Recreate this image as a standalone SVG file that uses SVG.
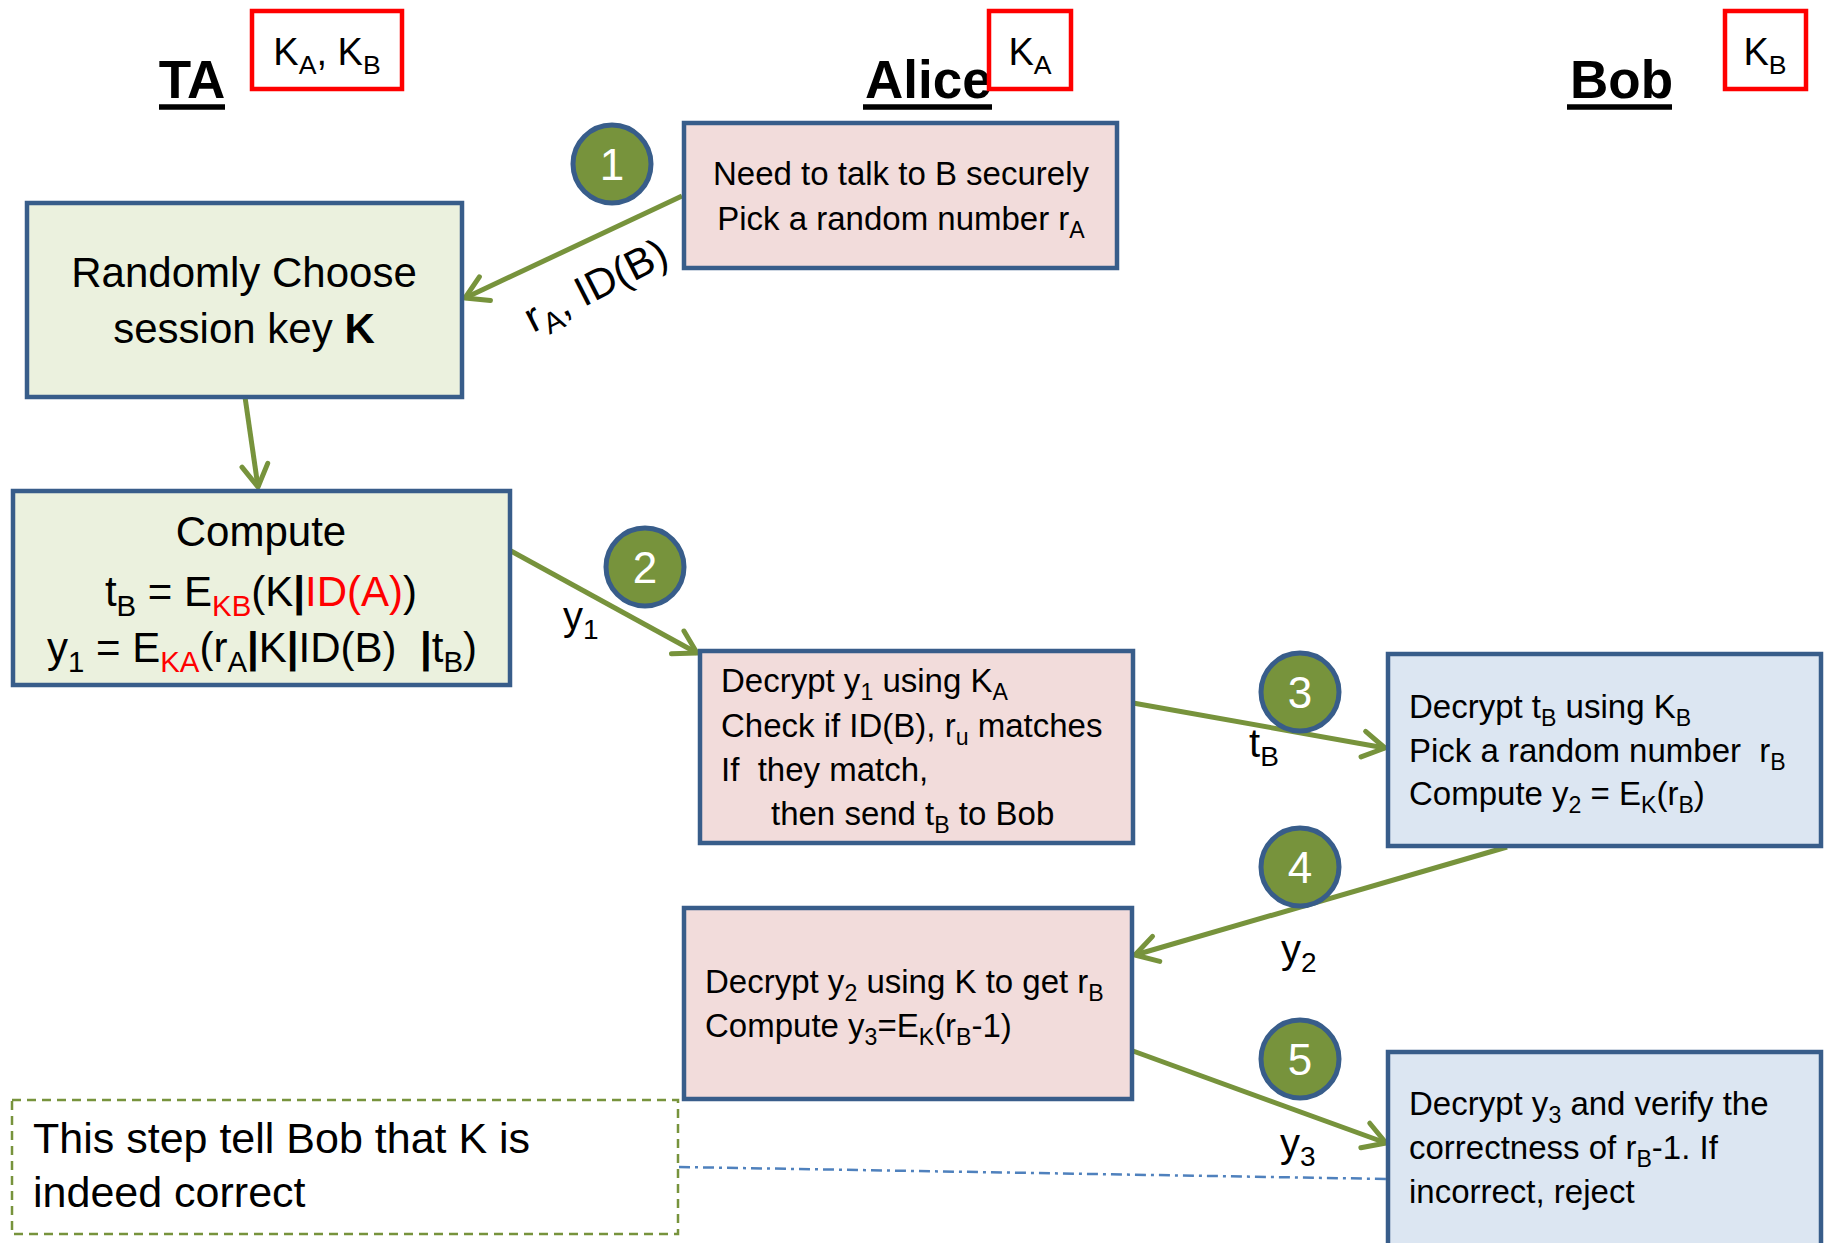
<svg xmlns="http://www.w3.org/2000/svg" width="1830" height="1243" viewBox="0 0 1830 1243">
  <defs>
    <!-- open chevron arrowhead used by every message arrow -->
    <marker id="chev" viewBox="-28 -18 32 36" refX="0" refY="0" markerWidth="32" markerHeight="36" markerUnits="userSpaceOnUse" orient="auto">
      <path d="M-22,-13 L0,0 L-22,13" fill="none" stroke="#77933c" stroke-width="5" stroke-linecap="round" stroke-linejoin="round"/>
    </marker>
  </defs>
  <style>
    text { font-family: "Liberation Sans", Arial, sans-serif; fill: #000; white-space: pre; }
    .hdr { font-size: 53px; font-weight: bold; }
    .ul { stroke: #000; stroke-width: 5.5; }
    .key { fill: none; stroke: #ff0000; stroke-width: 4.5; }
    .keyt { font-size: 38px; text-anchor: middle; }
    .box { stroke: #385d8a; stroke-width: 4.5; }
    .pink { fill: #f2dcdb; }
    .green { fill: #ebf1de; }
    .blue { fill: #dce6f2; }
    .t33 { font-size: 33px; }
    .t40 { font-size: 40px; }
    .t42 { font-size: 42px; }
    .t43 { font-size: 43px; }
    .sb { font-size: 70%; }
    .red { fill: #ff0000; }
    .bar { font-weight: bold; }
    .conn { stroke: #77933c; stroke-width: 5; fill: none; }
    .badge { fill: #77933c; stroke: #385d8a; stroke-width: 5; }
    .badge-t { fill: #fff; font-size: 44px; text-anchor: middle; }
  </style>

  <rect width="1830" height="1243" fill="#fff"/>

  <!-- party headers with the keys each one holds -->
  <g id="hdr-ta">
    <text class="hdr" x="192" y="98" text-anchor="middle">TA</text>
    <line class="ul" x1="159" y1="107" x2="225" y2="107"/>
    <rect class="key" x="252" y="11" width="150" height="78"/>
    <text class="keyt" x="327" y="65">K<tspan class="sb" dy="9">A</tspan><tspan dy="-9">, K</tspan><tspan class="sb" dy="9">B</tspan></text>
  </g>
  <g id="hdr-alice">
    <text class="hdr" x="865" y="98">Alice</text>
    <line class="ul" x1="863" y1="107" x2="992" y2="107"/>
    <rect class="key" x="989" y="11" width="82" height="78" fill="#fff"/>
    <text class="keyt" x="1030" y="65">K<tspan class="sb" dy="9">A</tspan></text>
  </g>
  <g id="hdr-bob">
    <text class="hdr" x="1570" y="98">Bob</text>
    <line class="ul" x1="1567" y1="107" x2="1672" y2="107"/>
    <rect class="key" x="1725" y="11" width="81" height="78"/>
    <text class="keyt" x="1765" y="65">K<tspan class="sb" dy="9">B</tspan></text>
  </g>

  <!-- message arrows and their labels -->
  <g id="connectors">
    <line class="conn" x1="682" y1="196" x2="465" y2="298" marker-end="url(#chev)"/>
    <line class="conn" x1="245" y1="397" x2="258" y2="487" marker-end="url(#chev)"/>
    <line class="conn" x1="511" y1="551" x2="697" y2="653" marker-end="url(#chev)"/>
    <line class="conn" x1="1133" y1="703" x2="1385" y2="748" marker-end="url(#chev)"/>
    <line class="conn" x1="1507" y1="847" x2="1135" y2="955" marker-end="url(#chev)"/>
    <line class="conn" x1="1133" y1="1051" x2="1386" y2="1143" marker-end="url(#chev)"/>
    <line x1="679" y1="1167" x2="1388" y2="1179" stroke="#4f81bd" stroke-width="2.5" stroke-dasharray="11 5 3 5"/>

    <text class="t42" transform="translate(533,333) rotate(-27)">r<tspan class="sb" dy="9">A</tspan><tspan dy="-9">, ID(B)</tspan></text>
    <text class="t40" x="563" y="630">y<tspan class="sb" dy="9">1</tspan></text>
    <text class="t40" x="1249" y="757">t<tspan class="sb" dy="9">B</tspan></text>
    <text class="t40" x="1281" y="963">y<tspan class="sb" dy="9">2</tspan></text>
    <text class="t40" x="1280" y="1157">y<tspan class="sb" dy="9">3</tspan></text>
  </g>

  <!-- TA: choose session key -->
  <g id="ta-choose">
    <rect class="box green" x="27" y="203" width="435" height="194"/>
    <text class="t42" x="244" y="287" text-anchor="middle">Randomly Choose</text>
    <text class="t42" x="244" y="343" text-anchor="middle">session key <tspan font-weight="bold">K</tspan></text>
  </g>

  <!-- TA: build tickets -->
  <g id="ta-compute">
    <rect class="box green" x="13" y="491" width="497" height="194"/>
    <text class="t42" x="261" y="546" text-anchor="middle">Compute</text>
    <text class="t42" x="261" y="606" text-anchor="middle">t<tspan class="sb" dy="10">B</tspan><tspan dy="-10"> = E</tspan><tspan class="sb red" dy="10">KB</tspan><tspan dy="-10">(K</tspan><tspan class="bar">|</tspan><tspan class="red">ID(A)</tspan>)</text>
    <text class="t42" x="262" y="662" text-anchor="middle">y<tspan class="sb" dy="10">1</tspan><tspan dy="-10"> = E</tspan><tspan class="sb red" dy="10">KA</tspan><tspan dy="-10">(r</tspan><tspan class="sb" dy="10">A</tspan><tspan class="bar" dy="-10">|</tspan>K<tspan class="bar">|</tspan>ID(B)  <tspan class="bar">|</tspan>t<tspan class="sb" dy="10">B</tspan><tspan dy="-10">)</tspan></text>
  </g>

  <!-- Alice: request -->
  <g id="alice-request">
    <rect class="box pink" x="684" y="123" width="433" height="145"/>
    <text class="t33" x="901" y="185" text-anchor="middle">Need to talk to B securely</text>
    <text class="t33" x="901" y="230" text-anchor="middle">Pick a random number r<tspan class="sb" dy="8">A</tspan></text>
  </g>

  <!-- Alice: check y1 and forward tB -->
  <g id="alice-check">
    <rect class="box pink" x="700" y="651" width="433" height="192"/>
    <text class="t33" x="721" y="692">Decrypt y<tspan class="sb" dy="8">1</tspan><tspan dy="-8"> using K</tspan><tspan class="sb" dy="8">A</tspan></text>
    <text class="t33" x="721" y="737">Check if ID(B), r<tspan class="sb" dy="8">u</tspan><tspan dy="-8"> matches</tspan></text>
    <text class="t33" x="721" y="781">If  they match,</text>
    <text class="t33" x="771" y="825">then send t<tspan class="sb" dy="8">B</tspan><tspan dy="-8"> to Bob</tspan></text>
  </g>

  <!-- Bob: open tB, challenge -->
  <g id="bob-challenge">
    <rect class="box blue" x="1388" y="654" width="433" height="192"/>
    <text class="t33" x="1409" y="718">Decrypt t<tspan class="sb" dy="8">B</tspan><tspan dy="-8"> using K</tspan><tspan class="sb" dy="8">B</tspan></text>
    <text class="t33" x="1409" y="762">Pick a random number  r<tspan class="sb" dy="8">B</tspan></text>
    <text class="t33" x="1409" y="805">Compute y<tspan class="sb" dy="8">2</tspan><tspan dy="-8"> = E</tspan><tspan class="sb" dy="8">K</tspan><tspan dy="-8">(r</tspan><tspan class="sb" dy="8">B</tspan><tspan dy="-8">)</tspan></text>
  </g>

  <!-- Alice: answer challenge -->
  <g id="alice-answer">
    <rect class="box pink" x="684" y="908" width="448" height="191"/>
    <text class="t33" x="705" y="993">Decrypt y<tspan class="sb" dy="8">2</tspan><tspan dy="-8"> using K to get r</tspan><tspan class="sb" dy="8">B</tspan></text>
    <text class="t33" x="705" y="1037">Compute y<tspan class="sb" dy="8">3</tspan><tspan dy="-8">=E</tspan><tspan class="sb" dy="8">K</tspan><tspan dy="-8">(r</tspan><tspan class="sb" dy="8">B</tspan><tspan dy="-8">-1)</tspan></text>
  </g>

  <!-- Bob: verify -->
  <g id="bob-verify">
    <rect class="box blue" x="1388" y="1052" width="433" height="200"/>
    <text class="t33" x="1409" y="1115">Decrypt y<tspan class="sb" dy="8">3</tspan><tspan dy="-8"> and verify the</tspan></text>
    <text class="t33" x="1409" y="1159">correctness of r<tspan class="sb" dy="8">B</tspan><tspan dy="-8">-1. If</tspan></text>
    <text class="t33" x="1409" y="1203">incorrect, reject</text>
  </g>

  <!-- note -->
  <g id="note">
    <rect x="12" y="1100" width="666" height="134" fill="none" stroke="#77933c" stroke-width="2.5" stroke-dasharray="9 6"/>
    <text class="t43" x="33" y="1153">This step tell Bob that K is</text>
    <text class="t43" x="33" y="1207">indeed correct</text>
  </g>

  <!-- step numbers -->
  <g id="step-1"><circle class="badge" cx="612" cy="164" r="39"/><text class="badge-t" x="612" y="180">1</text></g>
  <g id="step-2"><circle class="badge" cx="645" cy="567" r="39"/><text class="badge-t" x="645" y="583">2</text></g>
  <g id="step-3"><circle class="badge" cx="1300" cy="692" r="39"/><text class="badge-t" x="1300" y="708">3</text></g>
  <g id="step-4"><circle class="badge" cx="1300" cy="867" r="39"/><text class="badge-t" x="1300" y="883">4</text></g>
  <g id="step-5"><circle class="badge" cx="1300" cy="1059" r="39"/><text class="badge-t" x="1300" y="1075">5</text></g>
</svg>
